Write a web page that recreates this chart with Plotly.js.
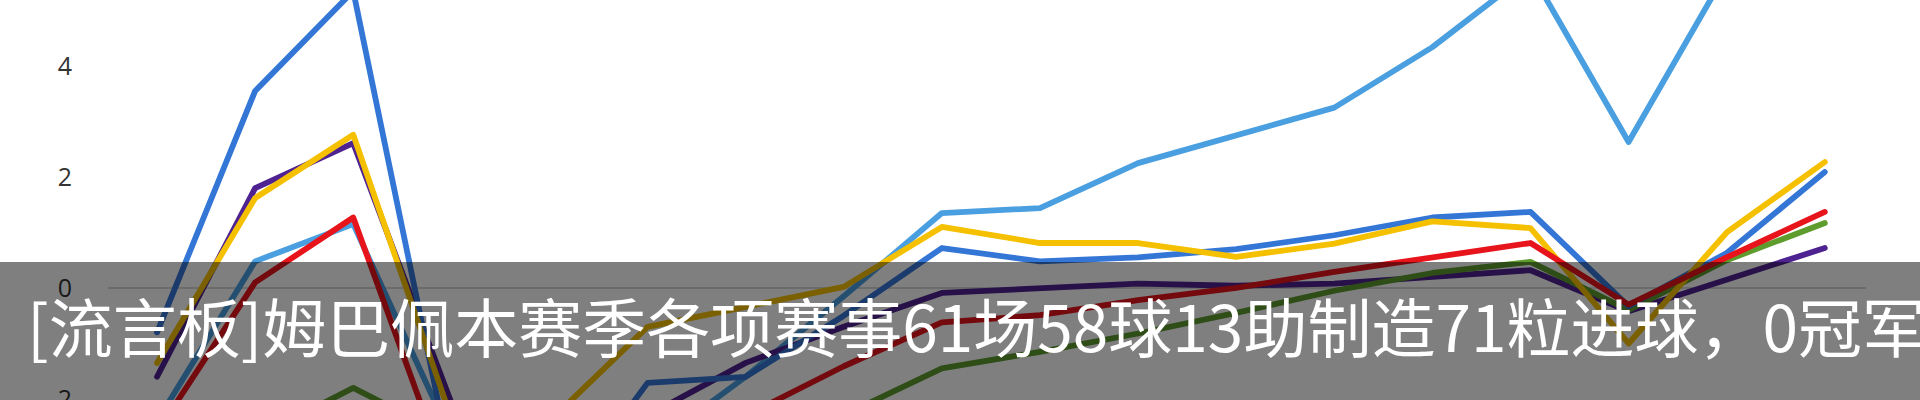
<!DOCTYPE html>
<html>
<head>
<meta charset="utf-8">
<script src="https://cdn.plot.ly/plotly-3.0.1.min.js"></script>
<style>
  html, body { margin:0; padding:0; width:1920px; height:400px; overflow:hidden; background:#fff; }
  #chart { position:absolute; left:0; top:-60px; width:1920px; height:540px; }
  #chart .js-line { stroke-linejoin: round !important; stroke-linecap: round !important; }
</style>
</head>
<body>
<div id="chart"></div>
<script>
// Categories (match rounds; x-axis labels are cropped out of the picture)
const rounds = ['1','2','3','4','5','6','7','8','9','10','11','12','13','14','15','16','17','18'];

// Series values
const lightBlueVals = [-2.4, 0.48, 1.15, -2.7, -3.0, -2.9, -1.6, -0.15, 1.35, 1.44, 2.25, 2.76, 3.25, 4.34, 5.7, 2.63, 5.7, 6.0];
const purpleVals    = [-1.6, 1.8, 2.61, -2.07, -2.6, -2.3, -1.35, -0.7, -0.09, 0.0, 0.08, 0.04, 0.08, 0.2, 0.32, -0.42, 0.15, 0.72];
const greenVals     = [-3.0, -2.7, -1.8, -2.7, -3.2, -3.0, -2.8, -2.29, -1.45, -1.15, -0.82, -0.45, -0.05, 0.27, 0.47, -0.4, 0.5, 1.17];
const blueVals      = [-0.8, 3.55, 5.35, -3.2, -4.1, -1.71, -1.6, -0.5, 0.72, 0.48, 0.55, 0.7, 0.95, 1.27, 1.37, -0.33, 0.63, 2.09];
const yellowVals    = [-1.35, 1.62, 2.76, -2.35, -2.4, -0.70, -0.34, 0.02, 1.10, 0.81, 0.81, 0.56, 0.80, 1.20, 1.08, -1.0, 1.0, 2.27];
const redVals       = [-2.6, 0.1, 1.27, -3.6, -3.3, -2.9, -2.3, -1.41, -0.62, -0.49, -0.22, 0.0, 0.29, 0.56, 0.81, -0.3, 0.55, 1.37];

// Tick labels
const yTickVals = [-2, 0, 2, 4];
const yTickText = ['-2', '0', '2', '4'];

const bannerText = '[流言板]姆巴佩本赛季各项赛事61场58球13助制造71粒进球，0冠军';

const seriesList = [
  {vals: lightBlueVals, color: '#4a9fe0'},
  {vals: purpleVals,    color: '#4e2391'},
  {vals: greenVals,     color: '#5e9c2e'},
  {vals: blueVals,      color: '#3476d6'},
  {vals: yellowVals,    color: '#f5c000'},
  {vals: redVals,       color: '#e8141c'}
];

const traces = seriesList.map(s => ({
  type: 'scatter',
  mode: 'lines',
  x: rounds,
  y: s.vals,
  line: {color: s.color, width: 5.8, shape: 'linear'},
  hoverinfo: 'skip'
}));

const L = 108, R = 54, W = 1920, H = 540;
const plotW = W - L - R;

const layout = {
  width: W, height: H,
  margin: {l: L, r: R, t: 0, b: 0, pad: 0},
  paper_bgcolor: '#ffffff',
  plot_bgcolor: '#ffffff',
  showlegend: false,
  xaxis: {
    type: 'category',
    range: [-0.5, 17.42],
    showgrid: false, zeroline: false, showline: false,
    showticklabels: false, ticks: ''
  },
  yaxis: {
    range: [-3.46, 6.27],
    tickmode: 'array',
    tickvals: yTickVals,
    ticktext: yTickText,
    showgrid: false,
    zeroline: true,
    zerolinecolor: '#d6d6d6',
    zerolinewidth: 2,
    showline: false,
    ticks: '',
    ticklabelstandoff: 35,
    tickfont: {family: 'Open Sans, Liberation Sans, sans-serif', size: 25, color: '#333333'}
  },
  shapes: [{
    type: 'rect', xref: 'paper', yref: 'paper', layer: 'above',
    x0: -L / plotW, x1: (W - L) / plotW,
    y0: -0.2, y1: 1 - 322 / H,
    fillcolor: 'rgba(0,0,0,0.5)',
    line: {width: 0}
  }],
  annotations: [{
    xref: 'paper', yref: 'paper',
    x: (25 - L) / plotW, xanchor: 'left',
    y: 1 - (324 + 60) / H, yanchor: 'middle',
    text: bannerText,
    showarrow: false,
    font: {family: 'Noto Sans CJK SC', size: 64, color: '#ffffff'}
  }]
};

Plotly.newPlot('chart', traces, layout, {staticPlot: true, displayModeBar: false});
</script>
</body>
</html>
